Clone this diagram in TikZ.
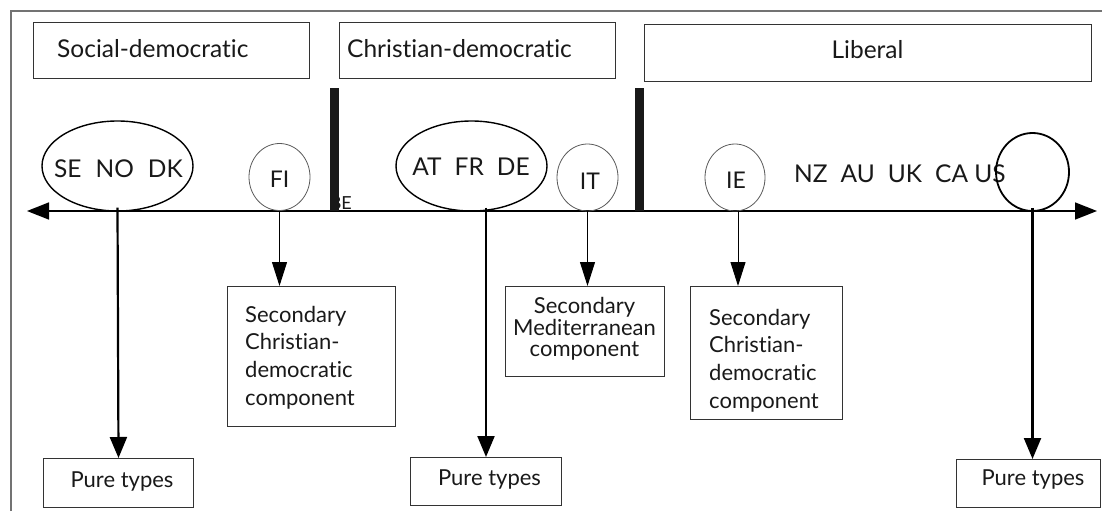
\documentclass[tikz,border=0pt]{standalone}
\usepackage{fontspec}
\setmainfont{Lato}[Ligatures={NoCommon}]
\usetikzlibrary{arrows.meta,shapes.geometric}
\begin{document}
\begin{tikzpicture}[x=1pt,y=-1pt,
  frame/.style={draw=black!55, line width=1.2pt},
  topbox/.style={draw=black!80, line width=1pt, rectangle, inner sep=0pt, anchor=north west},
  toplab/.style={font=\fontsize{24.5}{28}\selectfont, anchor=base, text=black!90, inner sep=0pt},
  cty/.style={font=\fontsize{24.5}{28}\selectfont, anchor=base, text=black!90, inner sep=0pt},
  small/.style={font=\fontsize{23}{26}\selectfont, anchor=base, text=black!90, inner sep=0pt},
  bigell/.style={draw, ellipse, line width=1.4pt, inner sep=0pt},
  smallcirc/.style={draw=black!65, ellipse, line width=0.8pt, inner sep=0pt},
  uscirc/.style={draw, ellipse, line width=1.8pt, inner sep=0pt},
  barbox/.style={fill=black!90, draw=none, rectangle, inner sep=0pt, anchor=north west},
  axisline/.style={line width=1.6pt, {Triangle[length=22pt,width=17pt]}-{Triangle[length=22pt,width=17pt]}},
  thickarr/.style={line width=2.2pt, -{Triangle[length=21pt,width=17pt]}},
  thinarr/.style={line width=1pt, -{Triangle[length=24pt,width=15pt]}},
  lowbox/.style={draw=black!80, line width=1pt, rectangle, inner sep=0pt, anchor=north west},
  lowlab/.style={font=\fontsize{22}{27.7}\selectfont, text=black!90, inner sep=0pt},
]
\useasboundingbox (0,0) rectangle (1102,511);
\draw[frame] (11,511) -- (11,11) -- (1102,11);

% top category boxes
\node[topbox, minimum width=276pt, minimum height=56pt] (sdbox) at (33,22) {};
\node[toplab, anchor=base west] (sdlab) at (57,57) {Social-democratic};
\node[topbox, minimum width=276pt, minimum height=56pt] (cdbox) at (339,22) {};
\node[toplab, anchor=base west] (cdlab) at (347,57) {Christian-democratic};
\node[topbox, minimum width=447pt, minimum height=57pt] (libbox) at (644,24) {};
\node[toplab] (liblab) at (867.5,59) {Liberal};

% axis
\coordinate (axl) at (27,211);
\coordinate (axr) at (1097,211);
\draw[axisline] (axl) -- (axr);

% country groups
\node[bigell, minimum width=151pt, minimum height=90pt] (sen) at (117.5,166) {};
\node[cty] (sent) at (118.5,177) {SE\hspace{14pt}NO\hspace{14pt}DK};
\node[smallcirc, minimum width=61pt, minimum height=67pt] (fi) at (279.5,177) {};
\node[small] (fit) at (279.5,187) {FI};
\node[font=\fontsize{18}{20}\selectfont, text=black!90, anchor=base east, inner sep=0pt] (be) at (352,209) {BE};
\node[barbox, minimum width=9pt, minimum height=123pt] (bar1) at (330,88) {};
\node[bigell, minimum width=151pt, minimum height=90pt] (at) at (471.5,166) {};
\node[cty] (att) at (471,175) {AT\hspace{13pt}FR\hspace{13pt}DE};
\node[smallcirc, minimum width=61pt, minimum height=67pt] (it) at (587.5,177.5) {};
\node[small] (itt) at (590,189) {IT};
\node[barbox, minimum width=9pt, minimum height=123pt] (bar2) at (635,88) {};
\node[smallcirc, minimum width=60pt, minimum height=67pt] (ie) at (735,177.5) {};
\node[small] (iet) at (736,188) {IE};
\node[cty, anchor=base west] (lib) at (794,182) {NZ\hspace{13pt}AU\hspace{13pt}UK\hspace{13pt}CA US};
\node[uscirc, minimum width=73pt, minimum height=78pt] (us) at (1032.5,172) {};

% lower boxes
\node[lowbox, minimum width=150pt, minimum height=49pt] (pt1) at (43,458) {};
\node[lowlab, anchor=base] (pt1t) at (122,487) {Pure types};
\node[lowbox, minimum width=151pt, minimum height=48pt] (pt2) at (410,457) {};
\node[lowlab, anchor=base] (pt2t) at (489.5,485) {Pure types};
\node[lowbox, minimum width=144pt, minimum height=48pt] (pt3) at (956,459) {};
\node[lowlab, anchor=base] (pt3t) at (1033,485) {Pure types};

\node[lowbox, minimum width=168pt, minimum height=140pt] (cd1) at (227,286) {};
\node[lowlab, anchor=base west] (cd1t) at (245,322) {\begin{tabular}[t]{@{}l@{}}Secondary\\Christian-\\democratic\\component\end{tabular}};
\node[lowbox, minimum width=159pt, minimum height=90pt] (med) at (505,286) {};
\node[font=\fontsize{22}{21}\selectfont, text=black!90, anchor=base, inner sep=0pt] (medt) at (584.5,313) {\begin{tabular}[t]{@{}c@{}}Secondary\\Mediterranean\\component\end{tabular}};
\node[lowbox, minimum width=152pt, minimum height=133pt] (cd2) at (690,286) {};
\node[lowlab, anchor=base west] (cd2t) at (709,325) {\begin{tabular}[t]{@{}l@{}}Secondary\\Christian-\\democratic\\component\end{tabular}};

% connectors
\draw[thickarr] ([yshift=4pt]sen.south) -- (pt1.north);
\draw[thinarr] (fi.south) -- (fi.south |- cd1.north);
\draw[thickarr] ([yshift=4pt]pt2.north |- at.south) -- (pt2.north);
\draw[thinarr] (it.south) -- (it.south |- med.north);
\draw[thinarr] ([xshift=3pt]ie.south) -- ([xshift=3pt]ie.south |- cd2.north);
\draw[thickarr] ([yshift=4pt]us.south) -- (us.south |- pt3.north);
\end{tikzpicture}
\end{document}
